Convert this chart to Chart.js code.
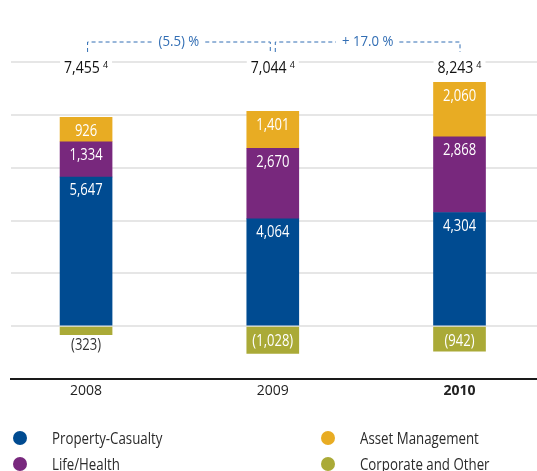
<!DOCTYPE html>
<html>
<head>
<meta charset="utf-8">
<script src="https://cdn.jsdelivr.net/npm/chart.js@4"></script>
<style>
  body { margin: 0; background: #fff; font-family: 'Open Sans', sans-serif; }
  #wrap { position: relative; width: 537px; height: 471px; }
  .item { position: absolute; font-size: 16px; color: #2a2a2a; line-height: 18px; white-space: nowrap;
          transform: scaleX(0.83); transform-origin: left center; }
  .dot { position: absolute; width: 14px; height: 14px; border-radius: 50%; }
</style>
</head>
<body>
<div id="wrap">
  <canvas id="chart" width="537" height="471"></canvas>
  <div id="legend"></div>
</div>
<script>
// Data
const years = [2008, 2009, 2010];
const propertyCasualty = [5647, 4064, 4304];
const lifeHealth = [1334, 2670, 2868];
const assetManagement = [926, 1401, 2060];
const corporateOther = [-323, -1028, -942];
const totals = [7455, 7044, 8243];
const footnote = '4';
const changes = ['(5.5) %', '+ 17.0 %'];

const FONT = "'Open Sans', sans-serif";
const series = [
  { label: 'Property-Casualty', values: propertyCasualty, color: 'rgb(0, 75, 145)' },
  { label: 'Life/Health', values: lifeHealth, color: 'rgb(120, 40, 125)' },
  { label: 'Asset Management', values: assetManagement, color: 'rgb(232, 172, 35)' },
  { label: 'Corporate and Other', values: corporateOther, color: 'rgb(170, 170, 55)' }
];

function fmt(v) {
  const s = Math.abs(v).toLocaleString('en-US');
  return v < 0 ? '(' + s + ')' : s;
}

// schmale Schrift nachbilden: Text horizontal stauchen
function narrowText(ctx, text, x, y, k) {
  ctx.save();
  ctx.translate(x, y);
  ctx.scale(k, 1);
  ctx.fillText(text, 0, 0);
  ctx.restore();
}

// Werte in den Segmenten
const segmentLabels = {
  id: 'segmentLabels',
  afterDatasetsDraw(chart) {
    const ctx = chart.ctx;
    ctx.save();
    ctx.font = '15.5px ' + FONT;
    ctx.textAlign = 'center';
    ctx.textBaseline = 'middle';
    chart.data.datasets.forEach((ds, di) => {
      chart.getDatasetMeta(di).data.forEach((bar, i) => {
        const v = ds.data[i].y;
        const top = Math.min(bar.y, bar.base);
        const bottom = Math.max(bar.y, bar.base);
        if (bottom - top >= 20) {
          ctx.fillStyle = '#fff';
          narrowText(ctx, fmt(v), bar.x, top + 14, 0.84);
        } else {
          ctx.fillStyle = '#333';
          narrowText(ctx, fmt(v), bar.x, bottom + 11, 0.84);
        }
      });
    });
    ctx.restore();
  }
};

// Summen oben + Veraenderungsklammern
const totalsAndChanges = {
  id: 'totalsAndChanges',
  afterDraw(chart) {
    const ctx = chart.ctx;
    const xs = chart.scales.x, ys = chart.scales.y;
    const yTop = ys.getPixelForValue(ys.max);
    const k = 0.88;
    ctx.save();
    years.forEach((yr, i) => {
      const x = xs.getPixelForValue(yr);
      ctx.fillStyle = '#fff';
      ctx.fillRect(x - 26, yTop - 3, 52, 6);
      const main = totals[i].toLocaleString('en-US');
      ctx.font = '500 16px ' + FONT;
      const w1 = ctx.measureText(main).width * k;
      ctx.font = '9px ' + FONT;
      const w2 = ctx.measureText(footnote).width;
      const start = x - (w1 + 3 + w2) / 2;
      ctx.textAlign = 'left';
      ctx.textBaseline = 'alphabetic';
      ctx.fillStyle = '#111';
      ctx.font = '500 16px ' + FONT;
      narrowText(ctx, main, start, yTop + 11, k);
      ctx.font = '9px ' + FONT;
      ctx.fillText(footnote, start + w1 + 3, yTop + 6);
    });

    const by = 42;
    ctx.strokeStyle = 'rgb(50, 110, 180)';
    ctx.fillStyle = 'rgb(50, 110, 180)';
    ctx.lineWidth = 1;
    ctx.setLineDash([4, 3]);
    ctx.font = '15px ' + FONT;
    ctx.textAlign = 'center';
    ctx.textBaseline = 'middle';
    changes.forEach((t, i) => {
      const x1 = xs.getPixelForValue(years[i]) + (i === 0 ? 1.5 : 2.5);
      const x2 = xs.getPixelForValue(years[i + 1]) + (i === 0 ? -2.5 : 0.5);
      const mid = (x1 + x2) / 2;
      const tw = ctx.measureText(t).width * k;
      ctx.beginPath();
      ctx.moveTo(x1, by + 10); ctx.lineTo(x1, by);
      ctx.lineTo(mid - tw / 2 - 6, by);
      ctx.moveTo(mid + tw / 2 + 6, by); ctx.lineTo(x2, by);
      ctx.lineTo(x2, by + 10);
      ctx.stroke();
      narrowText(ctx, t, mid, by, k);
    });
    ctx.restore();
  }
};

function loadChart() {
  const ctx = document.getElementById('chart').getContext('2d');
  new Chart(ctx, {
    type: 'bar',
    data: {
      datasets: series.map(s => ({
        label: s.label,
        data: years.map((yr, i) => ({ x: yr, y: s.values[i] })),
        backgroundColor: s.color,
        borderWidth: 0,
        barThickness: 52
      }))
    },
    options: {
      responsive: false,
      animation: false,
      layout: { padding: { left: 11, top: 62, right: 0, bottom: 0 } },
      plugins: { legend: { display: false }, tooltip: { enabled: false }, title: { display: false } },
      scales: {
        x: {
          type: 'linear',
          bounds: 'data',
          offset: false,
          min: 2007.598,
          max: 2010.415,
          stacked: true,
          afterBuildTicks: s => { s.ticks = years.map(v => ({ value: v })); },
          afterFit: s => { s.height = 92; },
          grid: { display: false, drawTicks: false, offset: false },
          border: { display: true, color: '#1a1a1a', width: 2 },
          ticks: {
            padding: 4,
            color: '#222',
            callback: v => String(v),
            font: c => ({ family: FONT, size: 14, weight: c.tick && c.tick.value === 2010 ? 'bold' : 'normal' })
          }
        },
        y: {
          min: -2000,
          max: 10000,
          stacked: true,
          afterFit: s => { s.width = 0; },
          ticks: { display: false, stepSize: 2000 },
          grid: { color: '#e6e6e6', lineWidth: 2, drawTicks: false },
          border: { display: false }
        }
      }
    },
    plugins: [segmentLabels, totalsAndChanges]
  });
}

// Legende (zwei Spalten)
function buildLegend() {
  const el = document.getElementById('legend');
  const cols = [13, 321];
  const rows = [438, 464];
  const order = [0, 2, 1, 3];
  order.forEach((si, k) => {
    const s = series[si];
    const left = cols[k % 2], cy = rows[Math.floor(k / 2)];
    const dot = document.createElement('div');
    dot.className = 'dot';
    dot.style.left = left + 'px';
    dot.style.top = (cy - 7) + 'px';
    dot.style.background = s.color;
    const txt = document.createElement('div');
    txt.className = 'item';
    txt.style.left = (left + 39) + 'px';
    txt.style.top = (cy - 9) + 'px';
    txt.textContent = s.label;
    el.appendChild(dot);
    el.appendChild(txt);
  });
}

loadChart();
buildLegend();
</script>
</body>
</html>
